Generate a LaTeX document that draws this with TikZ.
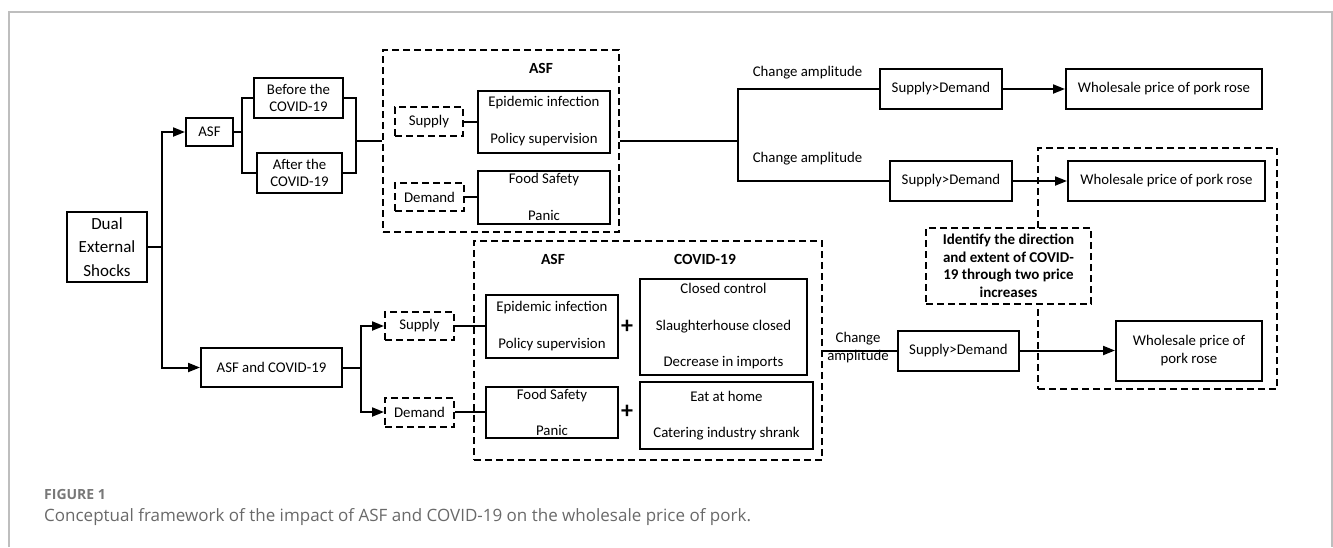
\documentclass[tikz,border=0pt]{standalone}
\usepackage{fontspec}
\setmainfont{Carlito}
\newfontfamily\capfont{Open Sans}
\usetikzlibrary{arrows.meta}
\definecolor{framegray}{RGB}{190,190,190}
\definecolor{capgray}{RGB}{105,105,105}
\definecolor{figgray}{RGB}{120,120,120}
\tikzset{
  box/.style={draw, line width=2pt, inner sep=0pt, align=center, fill=white,
    font=\fontsize{14.8}{17.5}\selectfont},
  dbox/.style={box, dash pattern=on 7pt off 4pt},
  group/.style={draw, line width=2pt, inner sep=0pt, dash pattern=on 7pt off 4pt},
  lbl/.style={inner sep=0pt, align=center, font=\fontsize{14.8}{18.5}\selectfont},
  title/.style={inner sep=0pt, font=\bfseries\fontsize{15.5}{18}\selectfont},
  conn/.style={line width=2pt},
  arr/.style={conn, -{Triangle[length=12pt,width=9pt]}},
  plus/.style={inner sep=0pt, font=\bfseries\fontsize{24}{24}\selectfont}
}
\begin{document}
\begin{tikzpicture}[x=1pt,y=-1pt]
\useasboundingbox (0,0) rectangle (1333,547);
\draw[framegray, line width=1.2pt] (9,547) -- (9,12) -- (1332,12) -- (1332,547);

% groups
\node[group, minimum width=236pt, minimum height=182pt] (asfbox) at (501,141) {};
\node[group, minimum width=348pt, minimum height=219pt] (bigbox) at (648,350.5) {};
\node[group, minimum width=239pt, minimum height=241pt] (rightbox) at (1157.5,268.5) {};

% left part
\node[box, minimum width=80pt, minimum height=70pt, font=\fontsize{17}{23.3}\selectfont] (dual) at (107,247) {Dual\\External\\Shocks};
\node[box, minimum width=47pt, minimum height=28pt] (asf1) at (209.5,132) {ASF};
\node[box, minimum width=89pt, minimum height=40pt] (before) at (298.5,98) {Before the\\COVID-19};
\node[box, minimum width=85pt, minimum height=40pt] (after) at (299.5,173) {After the\\COVID-19};
\node[box, minimum width=141pt, minimum height=39pt] (ac) at (271.5,367.5) {ASF and COVID-19};

% ASF group
\node[title] (asft) at (541,68) {ASF};
\node[dbox, minimum width=68pt, minimum height=29pt] (sup1) at (429,121.5) {Supply};
\node[box, minimum width=132pt, minimum height=62pt, font=\fontsize{14.8}{37}\selectfont] (epid1) at (544,121.5) {Epidemic infection\\Policy supervision};
\node[dbox, minimum width=69pt, minimum height=28pt] (dem1) at (429.5,197) {Demand};
\node[box, minimum width=132pt, minimum height=53pt, font=\fontsize{14.8}{37}\selectfont] (food1) at (544,197) {Food Safety\\Panic};

% ASF + COVID group
\node[title] (asft2) at (553,259) {ASF};
\node[title] (covt) at (705,259) {COVID-19};
\node[dbox, minimum width=69pt, minimum height=28pt] (sup2) at (419.5,326) {Supply};
\node[dbox, minimum width=69pt, minimum height=29pt] (dem2) at (419.5,412) {Demand};
\node[box, minimum width=132pt, minimum height=63pt, font=\fontsize{14.8}{37}\selectfont] (epid2) at (552,326) {Epidemic infection\\Policy supervision};
\node[box, minimum width=132pt, minimum height=51pt, font=\fontsize{14.8}{36}\selectfont] (food2) at (552,412) {Food Safety\\Panic};
\node[box, minimum width=167pt, minimum height=96pt, font=\fontsize{14.8}{36.5}\selectfont] (closed) at (723.5,326.5) {Closed control\\Slaughterhouse closed\\Decrease in imports};
\node[box, minimum width=173pt, minimum height=67pt, font=\fontsize{14.8}{36}\selectfont] (eat) at (726.5,415.5) {Eat at home\\Catering industry shrank};
\node[plus] (plus1) at (627,327) {+};
\node[plus] (plus2) at (627,412) {+};

% right part
\node[lbl] (ca1) at (807.5,73) {Change amplitude};
\node[lbl] (ca2) at (807.5,159) {Change amplitude};
\node[box, minimum width=122pt, minimum height=40pt] (sd1) at (941,89) {Supply>Demand};
\node[box, minimum width=196pt, minimum height=40pt] (wh1) at (1164,89) {Wholesale price of pork rose};
\node[box, minimum width=122pt, minimum height=40pt] (sd2) at (951,181) {Supply>Demand};
\node[box, minimum width=197pt, minimum height=40pt] (wh2) at (1166.5,181) {Wholesale price of pork rose};
\node[lbl] (ca3) at (858,347.5) {Change\\amplitude};
\node[box, minimum width=121pt, minimum height=40pt] (sd3) at (958.5,350.5) {Supply>Demand};
\node[box, minimum width=146pt, minimum height=60pt, font=\fontsize{14.8}{18}\selectfont] (wh3) at (1189,350.5) {Wholesale price of\\pork rose};
\node[dbox, minimum width=165pt, minimum height=76pt, font=\bfseries\fontsize{15}{17.5}\selectfont] (ident) at (1008.5,266) {Identify the direction\\and extent of COVID-\\19 through two price\\increases};

% junctions
\coordinate (jt) at (162,247);
\coordinate (j1) at (242,132);
\coordinate (j2) at (356,141);
\coordinate (j3) at (738,141);
\coordinate (j4) at (361,367.5);

% connectors
\draw[conn] (dual.east) -- (jt);
\draw[arr] (jt) |- (asf1.west);
\draw[arr] (jt) |- (ac.west);
\draw[conn] (asf1.east) -- (j1);
\draw[conn] (before.west) -| (j1) |- (after.west);
\draw[conn] (before.east) -| (j2) |- (after.east);
\draw[conn] (j2) -- (asfbox.west);
\draw[conn] (sup1.east) -- (epid1.west);
\draw[conn] (dem1.east) -- (food1.west);
\draw[conn] (asfbox.east) -- (j3);
\draw[conn] (sd1.west) -| (j3) |- (sd2.west);
\draw[arr] (sd1.east) -- (wh1.west);
\draw[arr] (sd2.east) -- (wh2.west);
\draw[conn] (ac.east) -- (j4);
\draw[arr] (j4) |- (sup2.west);
\draw[arr] (j4) |- (dem2.west);
\draw[conn] (sup2.east) -- (epid2.west);
\draw[conn] (dem2.east) -- (food2.west);
\draw[conn] (bigbox.east) -- (sd3.west);
\draw[arr] (sd3.east) -- (wh3.west);

% caption
\node[anchor=west, inner sep=0pt, text=figgray, font=\capfont\bfseries\fontsize{14}{16}\selectfont] (figlbl) at (44,494) {FIGURE 1};
\node[anchor=west, inner sep=0pt, text=capgray, font=\capfont\fontsize{17}{20}\selectfont] (caption) at (44,517) {Conceptual framework of the impact of ASF and COVID-19 on the wholesale price of pork.};
\end{tikzpicture}
\end{document}
